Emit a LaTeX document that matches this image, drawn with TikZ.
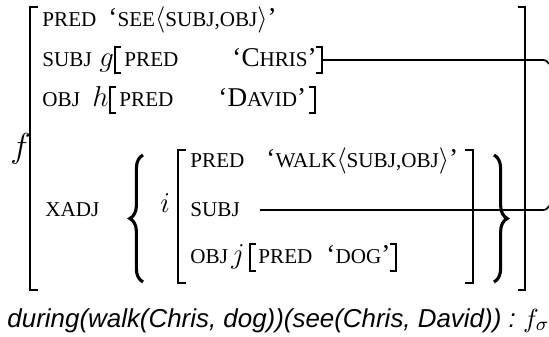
\documentclass[tikz,border=0pt]{standalone}
\usepackage{fontspec}
\setmainfont{Liberation Serif}
\newfontfamily\semfont{Liberation Sans}
\usetikzlibrary{positioning,calc,decorations.pathreplacing}
% small capitals, faked from capitals at a smaller size
\newcommand{\fsc}[1]{{\fontsize{8.8}{10}\selectfont #1}}
\tikzset{
 feat/.style={anchor=base west,inner sep=0pt,font=\fontsize{8.8}{10}\selectfont},
 val/.style={anchor=base west,inner sep=0pt,font=\fontsize{11.3}{13}\selectfont},
 var/.style={anchor=base west,inner sep=0pt,font=\fontsize{13}{15}\selectfont},
 sqbr/.style={line width=0.9pt},
 outerbr/.style={line width=1.2pt},
 curly/.style={decorate,decoration={brace,amplitude=5.5pt},line width=1.3pt},
 link/.style={line width=0.7pt}
}
\begin{document}
\begin{tikzpicture}[x=0.4167pt,y=-0.4167pt]
 \useasboundingbox (0,0) rectangle (549,337);
 % outer f-structure
 \node[var,font=\fontsize{15}{17}\selectfont] (f) at (10,158) {$f$};
 \draw[outerbr] (38,7) -| (30,290) -- (38,290);
 \draw[outerbr] (518,7) -| (525,290) -- (518,290);
 \node[feat] (pred1) at (42,27) {PRED};
 \node[val] (see) at (108,27) {`\fsc{SEE}$\langle$\fsc{SUBJ,OBJ}$\rangle$'};
 \node[feat] (subj1) at (42,67) {SUBJ};
 \node[var] (g) at (99,67) {$g$};
 \draw[sqbr] (121,47) -| (115,73) -- (121,73);
 \node[feat] (pred2) at (124,67) {PRED};
 \node[val] (chris) at (232,67) {`C\fsc{HRIS}'};
 \draw[sqbr] (316,47) -| (322,73) -- (316,73);
 \node[feat] (obj1) at (42,107) {OBJ};
 \node[var] (h) at (92,107) {$h$};
 \draw[sqbr] (116,87) -| (110,113) -- (116,113);
 \node[feat] (pred4) at (119,107) {PRED};
 \node[val] (david) at (218,107) {`D\fsc{AVID}'};
 \draw[sqbr] (309,87) -| (315,113) -- (309,113);
 % adjunct set
 \node[feat] (xadj) at (45,217) {XADJ};
 \draw[curly] (143,282) -- (143,155);
 \draw[curly] (494,155) -- (494,282);
 \node[var] (i) at (160,213) {$i$};
 \draw[sqbr] (186,150) -| (178,283) -- (186,283);
 \draw[sqbr] (465,150) -| (473,283) -- (465,283);
 \node[feat] (pred3) at (190,168) {PRED};
 \node[val] (walk) at (266,168) {`\fsc{WALK}$\langle$\fsc{SUBJ,OBJ}$\rangle$'};
 \node[feat] (subj2) at (190,217) {SUBJ};
 \node[feat] (obj2) at (190,264) {OBJ};
 \node[var] (j) at (231,264) {$j$};
 \draw[sqbr] (256,244) -| (250,271) -- (256,271);
 \node[feat] (pred5) at (258,264) {PRED};
 \node[val] (dog) at (326,264) {`\fsc{DOG}'};
 \draw[sqbr] (390,244) -| (396,271) -- (390,271);
 % links to the shared subject
 \coordinate (gR) at (322,60);
 \coordinate (gEnd) at (549,64);
 \draw[link] (gR) -- ($(gEnd)+(-9,-4)$) .. controls ($(gEnd)+(-3,-4)$) .. (gEnd);
 \coordinate (sLine) at (260,210);
 \coordinate (iEnd) at (549,206);
 \draw[link] (sLine) -- ($(iEnd)+(-9,4)$) .. controls ($(iEnd)+(-3,4)$) .. (iEnd);
 % meaning constructor
 \node[anchor=base west,inner sep=0pt,font=\semfont\itshape\fontsize{10.8}{12}\selectfont] (sem) at (7,327)
  {during(walk(Chris, dog))(see(Chris, David))\ :\ $f_\sigma$};
\end{tikzpicture}
\end{document}
